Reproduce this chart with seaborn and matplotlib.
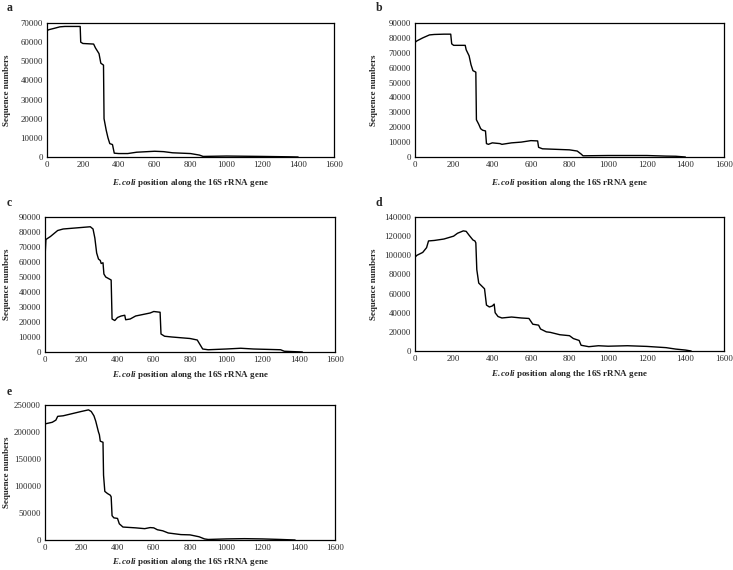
import numpy as np
import pandas as pd
import matplotlib
matplotlib.use("Agg")
import matplotlib.pyplot as plt
import matplotlib.transforms as mtransforms
import seaborn as sns

# ---- data ----
a_x = [0, 10, 40, 72, 100, 150, 185, 188, 200, 260, 270, 290, 300, 315, 318, 330, 340, 350, 365, 375, 400, 450, 500, 600, 650, 700, 800, 850, 870, 1000, 1100, 1200, 1350, 1400]
a_y = [66000, 66500, 67200, 68000, 68200, 68200, 68200, 60000, 59300, 59000, 57000, 54000, 49000, 48000, 20000, 14000, 10000, 7000, 6500, 2000, 1800, 1800, 2500, 3000, 2800, 2200, 1800, 1000, 300, 500, 400, 300, 100, 0]

b_x = [0, 10, 40, 75, 100, 150, 185, 190, 200, 260, 265, 280, 290, 300, 315, 318, 330, 340, 350, 365, 370, 380, 400, 440, 450, 500, 550, 600, 635, 640, 660, 700, 800, 840, 860, 870, 1000, 1200, 1300, 1350, 1400]
b_y = [77000, 78000, 80000, 82000, 82300, 82500, 82500, 76000, 75000, 75000, 72000, 68000, 62000, 58000, 57000, 25000, 22000, 19000, 18000, 17500, 9000, 8500, 9500, 9000, 8500, 9500, 10000, 11000, 10800, 6500, 5500, 5300, 4800, 4000, 2000, 800, 1000, 1000, 600, 500, 0]

c_x = [0, 5, 30, 70, 100, 200, 250, 265, 275, 285, 295, 305, 310, 320, 325, 335, 350, 365, 370, 385, 400, 420, 440, 445, 470, 500, 580, 600, 635, 640, 660, 700, 750, 800, 840, 870, 900, 1000, 1080, 1150, 1300, 1320, 1420]
c_y = [63000, 75000, 77000, 81000, 82000, 83000, 83500, 82000, 76000, 66000, 62000, 61000, 59000, 59500, 52000, 50000, 49000, 48000, 22000, 21000, 23000, 24000, 24500, 21500, 22000, 24000, 26000, 27000, 26500, 12000, 10500, 10000, 9500, 9000, 8000, 2000, 1500, 2000, 2500, 2000, 1500, 500, 0]

d_x = [0, 10, 40, 60, 70, 100, 150, 200, 220, 250, 265, 280, 300, 310, 315, 320, 330, 345, 360, 370, 385, 400, 410, 415, 430, 450, 500, 550, 590, 600, 610, 640, 650, 680, 700, 750, 800, 820, 850, 860, 900, 950, 1000, 1100, 1200, 1300, 1350, 1400, 1430]
d_y = [98000, 100000, 103000, 108000, 115000, 115500, 117000, 120000, 123000, 125500, 125000, 121000, 116000, 115000, 113000, 85000, 71000, 68000, 65000, 48000, 46000, 47000, 49000, 40000, 36000, 34500, 35500, 34500, 34000, 31000, 28000, 27000, 23000, 20000, 19500, 17000, 16000, 13000, 11000, 6000, 4500, 5500, 5000, 5500, 4800, 3500, 2000, 1000, 0]

e_x = [0, 40, 60, 70, 100, 150, 200, 240, 255, 270, 280, 295, 300, 305, 320, 323, 330, 345, 360, 365, 370, 380, 400, 410, 430, 500, 550, 580, 600, 620, 650, 680, 750, 800, 850, 880, 900, 1000, 1100, 1200, 1300, 1380]
e_y = [215000, 218000, 222000, 229000, 230000, 234000, 238000, 241000, 238000, 230000, 220000, 200000, 195000, 183000, 181000, 120000, 90000, 86000, 83000, 80000, 45000, 41000, 40000, 30000, 24000, 22500, 21000, 23000, 22500, 19000, 17000, 13000, 10000, 9500, 6000, 2000, 1000, 2000, 2500, 2000, 1000, 0]

panel_letters = ["a", "b", "c", "d", "e"]
y_maxes = [70000, 90000, 90000, 140000, 250000]
y_steps = [10000, 10000, 10000, 20000, 50000]
x_ticks = [0, 200, 400, 600, 800, 1000, 1200, 1400, 1600]
x_label_rest = " position along the 16S rRNA gene"
y_label = "Sequence numbers"

series = [(a_x, a_y), (b_x, b_y), (c_x, c_y), (d_x, d_y), (e_x, e_y)]

sns.set_style("white")
plt.rcParams["font.family"] = ["Liberation Serif", "DejaVu Serif"]
plt.rcParams["mathtext.fontset"] = "custom"
plt.rcParams["mathtext.rm"] = "Liberation Serif"
plt.rcParams["mathtext.it"] = "Liberation Serif:italic"
plt.rcParams["mathtext.bf"] = "Liberation Serif:bold"
plt.rcParams["mathtext.bfit"] = "Liberation Serif:italic:bold"

fig = plt.figure(figsize=(7.33, 5.70), dpi=100)
W, H = 733, 570
# axes boxes in pixels: left, top, right, bottom
boxes = [(47, 23, 334, 157), (415, 23, 724, 157),
         (45, 217, 335, 352), (415, 217, 724, 351),
         (45, 405, 335, 540)]
letter_pos = [(7, 8), (376, 8), (7, 203), (376, 203), (7, 392)]
ylabel_x = [7, 374, 7, 374, 7]
xlabel_y = [183, 183, 375, 374, 562]

for i, ((xs, ys), box) in enumerate(zip(series, boxes)):
    l, t, r, b = box
    ax = fig.add_axes([l / W, 1 - b / H, (r - l) / W, (b - t) / H])
    df = pd.DataFrame({"x": xs, "y": ys})
    sns.lineplot(data=df, x="x", y="y", ax=ax, color="black", linewidth=1.0, sort=False)
    ax.set_xlim(0, 1600)
    ax.set_ylim(0, y_maxes[i])
    ax.set_xticks(x_ticks)
    ax.set_yticks(np.arange(0, y_maxes[i] + 1, y_steps[i]))
    ax.tick_params(length=0, labelsize=6.3, pad=3)
    for s in ax.spines.values():
        s.set_color("black")
        s.set_linewidth(0.9)
    ax.set_xlabel(r"$\mathbfit{E.coli}$" + x_label_rest, fontsize=6.5, fontweight="bold")
    ax.set_ylabel(y_label, fontsize=6.5, fontweight="bold")
    ax.xaxis.label.set_va("center")
    ax.yaxis.label.set_va("center")
    tx = mtransforms.blended_transform_factory(ax.transAxes, fig.transFigure)
    ty = mtransforms.blended_transform_factory(fig.transFigure, ax.transAxes)
    ax.xaxis.set_label_coords(0.5, 1 - xlabel_y[i] / H, transform=tx)
    ax.yaxis.set_label_coords(ylabel_x[i] / W, 0.5, transform=ty)
    lx, ly = letter_pos[i]
    fig.text(lx / W, 1 - ly / H, panel_letters[i], fontsize=8.5, fontweight="bold",
             ha="left", va="center")

fig.savefig("out.png", dpi=100)
